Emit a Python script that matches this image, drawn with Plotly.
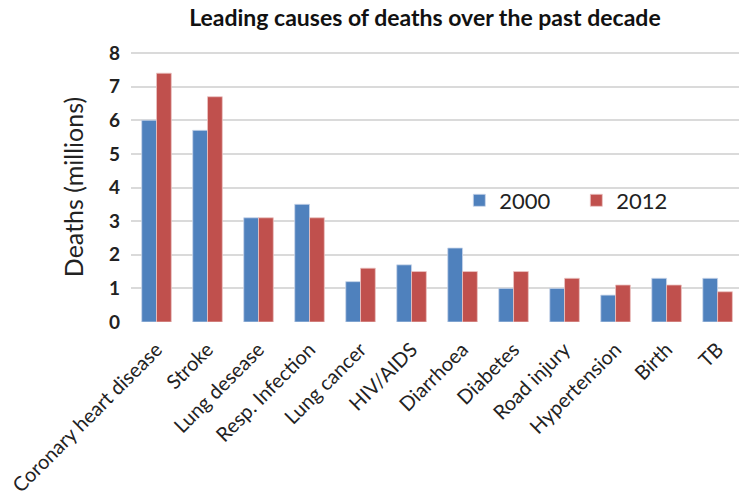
import plotly.graph_objects as go

causes = ["Coronary heart disease", "Stroke", "Lung desease", "Resp. Infection",
          "Lung cancer", "HIV/AIDS", "Diarrhoea", "Diabetes", "Road injury",
          "Hypertension", "Birth", "TB"]
deaths_2000 = [6.0, 5.7, 3.1, 3.5, 1.2, 1.7, 2.2, 1.0, 1.0, 0.8, 1.3, 1.3]
deaths_2012 = [7.4, 6.7, 3.1, 3.1, 1.6, 1.5, 1.5, 1.5, 1.3, 1.1, 1.1, 0.9]
y_ticks = [0, 1, 2, 3, 4, 5, 6, 7, 8]

FONT = "Lato, 'Open Sans', sans-serif"
BLUE = "#4F81BD"
RED = "#C0504D"

fig = go.Figure()
fig.add_trace(go.Bar(name="2000", x=causes, y=deaths_2000,
                     marker=dict(color=BLUE, line=dict(color="#C9D6EA", width=0.8))))
fig.add_trace(go.Bar(name="2012", x=causes, y=deaths_2012,
                     marker=dict(color=RED, line=dict(color="#EBC4C3", width=0.8))))

fig.update_layout(
    width=739, height=501,
    margin=dict(l=131, r=0, t=52, b=179, autoexpand=False),
    paper_bgcolor="white", plot_bgcolor="white",
    barmode="group", bargap=0.42, bargroupgap=0.0,
    font=dict(family=FONT, color="#222222"),
    title=dict(text="<b>Leading causes of deaths over the past decade</b>",
               font=dict(size=23, color="#111111"),
               x=0.575, xanchor="center", y=0.965, yanchor="middle"),
    legend=dict(orientation="h", x=0.54, y=0.45, xanchor="left", yanchor="middle",
                font=dict(size=22, color="#222222"), bgcolor="rgba(0,0,0,0)",
                itemwidth=30, traceorder="normal", entrywidth=72),
    xaxis=dict(range=[-0.5, 11.42], tickangle=-45, showgrid=False, showline=False,
               ticks="", automargin=False, ticklabelstandoff=11,
               tickfont=dict(size=20, color="#222222")),
    yaxis=dict(range=[0, 8.03], tickvals=y_ticks, showgrid=True, gridcolor="#DADADA",
               gridwidth=1.5, zeroline=False, showline=False, ticks="",
               automargin=False, ticklabelstandoff=10,
               tickfont=dict(size=19, color="#222222", weight="bold"),
               title=dict(text="Deaths (millions)", font=dict(size=25, color="#222222"),
                          standoff=18)),
)

fig.write_html("out.html")
